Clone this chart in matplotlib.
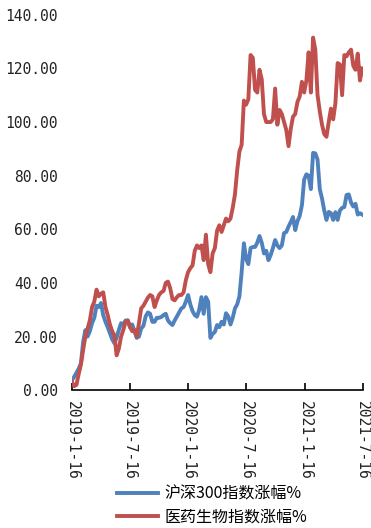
import numpy as np
import pandas as pd
import matplotlib
matplotlib.use("Agg")
import matplotlib.pyplot as plt
import matplotlib.dates as mdates

plt.rcParams['font.family'] = ['Noto Sans CJK SC', 'DejaVu Sans']

# weekly closes, % change since 2019-01-16
dates = pd.date_range("2019-01-16", periods=131, freq="7D")

hs300 = [3.7, 5, 6.5, 8, 10, 18, 22.4, 20, 22, 25,
         27, 31.5, 31, 32.5, 28, 25.5, 23.5, 21.3, 19, 17.5,
         19.5, 22.5, 25, 24.5, 26, 26, 23.5, 24.5, 22, 19.5,
         20, 23, 24, 27.5, 29, 28.5, 25.5, 25.5, 27, 27,
         27.3, 28, 28.5, 26, 25, 24.3, 26, 27.5, 29, 30.5,
         31, 33, 35.5, 32, 29.5, 28, 27.4, 30, 34.7, 28.5,
         34.7, 33, 19.5, 21, 21.7, 24.3, 23.5, 25.5, 24.5, 28.7,
         27.5, 24.5, 27, 30.5, 32, 35, 44, 54.8, 49, 47,
         53, 53.4, 53.4, 55, 57.5, 55, 51, 52, 48.5, 50.4,
         53, 56, 54, 53, 54, 58.6, 59, 61, 62.7, 64.6,
         59.7, 63, 65, 69, 78.5, 80.5, 80, 75, 88.5, 88.3,
         86, 75, 71.5, 67, 63.5, 66.5, 66, 63.5, 66.4, 63.5,
         67, 68, 68.3, 72.8, 73, 70, 68.5, 69.5, 65.5, 66,
         65.5]

pharma = [3, 1.5, 2, 6, 9.5, 15, 20, 23, 26, 31,
          33, 37.5, 35, 36, 36.5, 31, 28, 24.5, 22, 20.5,
          13, 15.5, 20, 22.5, 25.5, 26, 23.5, 22, 22.5, 20,
          25, 30.5, 31.5, 33, 34.5, 35.5, 35, 31, 33.5, 35.5,
          36.5, 37, 40, 40.5, 38, 34, 33.5, 34.7, 35.5, 35.5,
          36.5, 41, 44, 45.5, 46.5, 52, 54, 53, 54, 48.5,
          58, 47, 44, 51, 53, 59.5, 61.5, 59, 61.5, 64,
          63, 64, 68, 73, 82, 89, 91.5, 108, 106.5, 108.5,
          125, 124, 112, 111, 119.5, 116, 103, 100, 100, 100,
          101, 112.5, 99, 104.5, 103, 100, 97, 91, 97.5, 102,
          103, 107.5, 109.5, 115, 111, 115.5, 126, 111, 131.5, 127,
          110, 104, 99, 95.5, 94.5, 100, 105, 101, 107, 122,
          121.5, 110, 125, 124.5, 126, 127, 121, 119.5, 125.5, 115.5,
          120]

tick_dates = pd.to_datetime(["2019-01-16", "2019-07-16", "2020-01-16",
                             "2020-07-16", "2021-01-16", "2021-07-16"])
tick_labels = ["2019-1-16", "2019-7-16", "2020-1-16",
               "2020-7-16", "2021-1-16", "2021-7-16"]
y_ticks = [0, 20, 40, 60, 80, 100, 120, 140]

blue = "#4f81bd"
red = "#c0504d"

fig = plt.figure(figsize=(3.71, 5.28), dpi=100)
ax = fig.add_axes([0.194, 0.261, 0.784, 0.711])

ax.plot(dates, hs300, color=blue, lw=2.8, label="沪深300指数涨幅%")
ax.plot(dates, pharma, color=red, lw=2.8, label="医药生物指数涨幅%")

ax.set_xlim(tick_dates[0], tick_dates[-1])
ax.set_ylim(0, 140)

ax.set_xticks(mdates.date2num(tick_dates))
ax.set_xticklabels(tick_labels, rotation=270, family="DejaVu Sans Mono",
                   fontsize=10.5, color="#222222")
ax.set_yticks(y_ticks)
ax.set_yticklabels([f"{v:.2f}" for v in y_ticks], family="DejaVu Sans Mono",
                   fontsize=10.5, color="#222222")

for s in ["left", "right", "top"]:
    ax.spines[s].set_visible(False)
ax.spines["bottom"].set_linewidth(1.2)
ax.tick_params(axis="x", direction="in", length=5, width=1.2, pad=8)
ax.tick_params(axis="y", length=0, pad=10)

fig.legend(loc="upper left", bbox_to_anchor=(0.315, 0.081), frameon=False,
           fontsize=11.5, handlelength=2.6, handletextpad=0.4,
           labelspacing=0.4, borderpad=0, borderaxespad=0)

fig.savefig("out.png", dpi=100)
